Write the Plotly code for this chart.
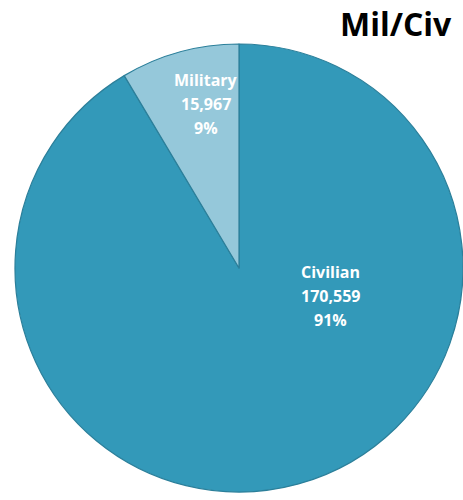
import plotly.graph_objects as go

# slice data (drawn clockwise from 12 o'clock)
labels = ["Civilian", "Military"]
values = [170559, 15967]
colors = ["#3399b9", "#95c8da"]

# where the text blocks sit (pixel centres, first line), as in the reference
label_pos = {"Military": (206, 80), "Civilian": (330, 272)}

W, H = 463, 500
LINE = 24

total = sum(values)

fig = go.Figure()
fig.add_trace(go.Pie(
    labels=labels,
    values=values,
    sort=False,
    direction="clockwise",
    rotation=0,
    marker=dict(colors=colors, line=dict(color="#2b7f9a", width=1.2)),
    textinfo="none",
    hoverinfo="label+value+percent",
    showlegend=False,
    domain=dict(x=[15 / W, 1], y=[8 / H, 456 / H]),
))

annotations = []
for lab, val in zip(labels, values):
    px, py_ = label_pos[lab]
    lines = [lab, f"{val:,}", f"{val / total:.0%}"]
    for i, line in enumerate(lines):
        annotations.append(dict(
            text=f"<b>{line}</b>",
            xref="paper", yref="paper",
            x=px / W, y=1 - (py_ + i * LINE) / H,
            xanchor="center", yanchor="middle",
            showarrow=False,
            font=dict(family="Open Sans", size=16, color="white"),
        ))

annotations.append(dict(
    text="<b>Mil/Civ</b>",
    xref="paper", yref="paper",
    x=454 / W, y=1 - 23 / H,
    xanchor="right", yanchor="middle",
    showarrow=False,
    font=dict(family="Open Sans", size=32, color="black"),
))

fig.update_layout(
    width=W,
    height=H,
    margin=dict(l=0, r=0, t=0, b=0),
    paper_bgcolor="white",
    annotations=annotations,
)

fig.write_html(
    "out.html",
    config={"displayModeBar": False},
    post_script="document.body.style.margin='0';document.body.style.overflow='hidden';",
)
